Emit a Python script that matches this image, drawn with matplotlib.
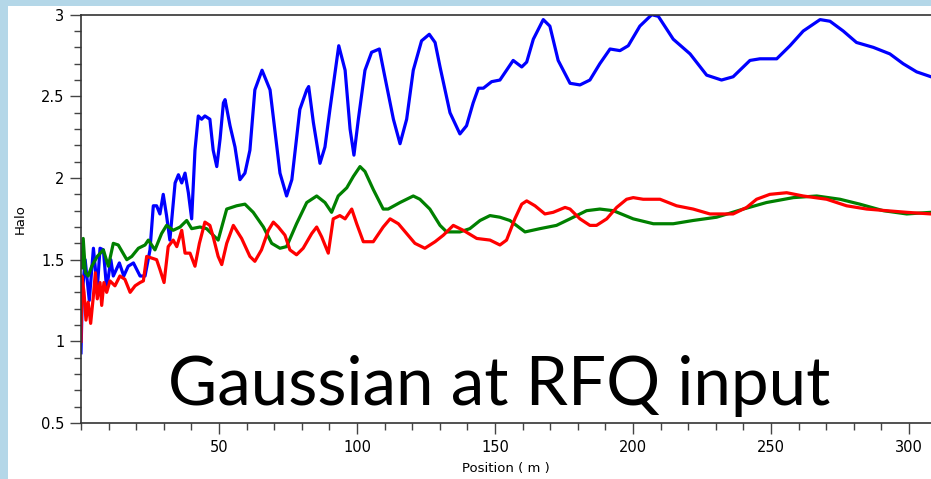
import numpy as np
import matplotlib
matplotlib.use("Agg")
import matplotlib.pyplot as plt
from matplotlib.patches import Rectangle
from matplotlib.ticker import MultipleLocator

# Kurven: Position in m, Halo-Parameter
blue_x = [0.0, 0.5, 1.5, 3.0, 4.5, 5.9, 6.9, 8.1, 9.3, 10.8, 11.7, 13.9, 15.5, 17.1, 19.0,
          21.4, 23.2, 25.0, 26.2, 27.4, 28.6, 29.8, 31.0, 32.2, 34.1, 35.3, 36.5, 37.7,
          38.9, 40.1, 41.3, 42.5, 43.7, 44.9, 46.7, 47.9, 49.2, 50.4, 51.6, 52.2, 54.0,
          55.8, 57.6, 59.4, 61.2, 63.0, 65.6, 68.5, 72.1, 74.5, 76.4, 79.3, 81.8, 82.5,
          84.2, 86.6, 88.4, 90.2, 93.4, 95.7, 97.5, 98.9, 100.5, 102.9, 105.3, 108.1,
          110.1, 113.2, 115.6, 118.0, 120.4, 123.4, 126.2, 128.3, 130.1, 133.7, 137.3,
          139.7, 142.1, 144.0, 145.8, 148.8, 151.8, 156.6, 159.7, 161.5, 163.9, 167.5,
          169.9, 172.9, 177.2, 180.8, 184.4, 188.0, 191.7, 195.3, 198.3, 202.5, 206.8,
          209.2, 214.6, 220.7, 226.7, 232.1, 236.3, 242.4, 246.0, 252.1, 256.9, 261.7,
          267.8, 271.4, 276.2, 281.0, 287.1, 293.1, 297.9, 302.8, 308.0]
blue_y = [0.93, 1.30, 1.50, 1.25, 1.57, 1.32, 1.57, 1.56, 1.32, 1.50, 1.40, 1.48, 1.40, 1.46,
          1.48, 1.40, 1.40, 1.56, 1.83, 1.83, 1.78, 1.90, 1.77, 1.62, 1.97, 2.02, 1.97,
          2.03, 1.91, 1.75, 2.17, 2.38, 2.36, 2.38, 2.36, 2.17, 2.07, 2.24, 2.46, 2.48,
          2.32, 2.19, 1.99, 2.03, 2.17, 2.54, 2.66, 2.54, 2.03, 1.89, 1.99, 2.42, 2.54,
          2.56, 2.34, 2.09, 2.19, 2.42, 2.81, 2.66, 2.30, 2.14, 2.36, 2.66, 2.77, 2.79,
          2.62, 2.36, 2.21, 2.36, 2.66, 2.84, 2.88, 2.83, 2.68, 2.40, 2.27, 2.32, 2.46,
          2.55, 2.55, 2.59, 2.60, 2.72, 2.68, 2.71, 2.85, 2.97, 2.93, 2.72, 2.58, 2.57,
          2.60, 2.70, 2.79, 2.78, 2.81, 2.93, 3.00, 2.99, 2.85, 2.76, 2.63, 2.60, 2.62,
          2.72, 2.73, 2.73, 2.81, 2.90, 2.97, 2.96, 2.90, 2.83, 2.80, 2.76, 2.70, 2.65,
          2.62]

green_x = [0.3, 0.8, 1.6, 2.6, 3.9, 5.9, 8.1, 9.9, 11.7, 13.5, 16.6, 18.4, 20.8, 23.2, 24.4,
           26.8, 29.2, 31.0, 33.4, 35.9, 38.3, 40.1, 43.1, 45.5, 47.9, 49.7, 52.8, 56.4,
           59.4, 62.4, 66.1, 69.1, 72.1, 74.5, 78.1, 81.8, 85.4, 88.4, 90.8, 93.2, 96.3,
           98.7, 101.1, 102.9, 105.9, 109.5, 111.3, 115.6, 120.4, 122.8, 126.4, 130.1,
           132.5, 137.3, 140.9, 144.6, 148.2, 151.8, 155.4, 160.9, 166.3, 172.3, 177.2,
           183.2, 188.0, 192.9, 200.1, 207.4, 214.6, 221.8, 230.3, 240.0, 248.4, 258.1,
           266.6, 275.0, 282.2, 290.7, 299.2, 308.0]
green_y = [1.45, 1.63, 1.42, 1.40, 1.46, 1.52, 1.56, 1.46, 1.60, 1.59, 1.50, 1.52, 1.57,
           1.59, 1.62, 1.56, 1.66, 1.71, 1.68, 1.70, 1.74, 1.69, 1.70, 1.69, 1.65, 1.62,
           1.81, 1.83, 1.84, 1.79, 1.70, 1.60, 1.57, 1.58, 1.72, 1.85, 1.89, 1.85, 1.79,
           1.89, 1.94, 2.01, 2.07, 2.04, 1.93, 1.81, 1.81, 1.85, 1.89, 1.87, 1.81, 1.71,
           1.67, 1.67, 1.69, 1.74, 1.77, 1.76, 1.74, 1.67, 1.69, 1.71, 1.75, 1.80, 1.81,
           1.80, 1.75, 1.72, 1.72, 1.74, 1.76, 1.81, 1.85, 1.88, 1.89, 1.87, 1.84, 1.80,
           1.78, 1.79]

red_x = [0.0, 0.3, 1.1, 1.8, 2.6, 3.5, 4.5, 5.2, 5.9, 6.9, 7.5, 8.3, 9.3, 10.5, 12.3, 14.1,
         15.9, 17.8, 19.6, 21.4, 22.6, 23.8, 25.6, 27.4, 28.6, 30.1, 31.6, 33.4, 34.7, 36.5,
         37.7, 39.5, 41.3, 42.9, 44.9, 46.7, 47.9, 49.7, 51.0, 52.8, 55.2, 58.2, 61.2,
         63.0, 65.4, 67.9, 69.7, 71.5, 73.9, 75.7, 78.1, 80.5, 83.6, 85.4, 87.2, 89.6,
         91.4, 93.8, 95.7, 98.1, 99.9, 102.3, 105.9, 109.5, 112.0, 115.0, 118.0, 121.0,
         124.6, 128.3, 131.3, 134.9, 138.5, 143.4, 148.2, 151.8, 154.2, 157.2, 159.7,
         161.5, 164.5, 168.1, 171.1, 175.4, 177.2, 180.8, 184.4, 186.8, 190.5, 194.1,
         197.7, 200.1, 203.7, 209.8, 215.8, 221.8, 227.9, 236.3, 241.2, 244.8, 249.6,
         255.7, 261.7, 270.2, 277.4, 284.7, 291.9, 299.2, 308.0]
red_y = [1.00, 1.40, 1.30, 1.13, 1.24, 1.11, 1.28, 1.42, 1.26, 1.36, 1.22, 1.36, 1.30, 1.37,
         1.34, 1.40, 1.38, 1.30, 1.34, 1.36, 1.37, 1.52, 1.51, 1.50, 1.44, 1.36, 1.58, 1.62,
         1.58, 1.68, 1.54, 1.54, 1.46, 1.60, 1.73, 1.71, 1.64, 1.52, 1.47, 1.60, 1.71, 1.63,
         1.52, 1.49, 1.56, 1.68, 1.73, 1.70, 1.65, 1.56, 1.53, 1.57, 1.66, 1.70, 1.64, 1.54,
         1.75, 1.77, 1.75, 1.81, 1.72, 1.61, 1.61, 1.70, 1.75, 1.72, 1.66, 1.60, 1.57, 1.61,
         1.65, 1.71, 1.68, 1.63, 1.62, 1.59, 1.62, 1.75, 1.84, 1.86, 1.83, 1.78, 1.79, 1.82,
         1.81, 1.75, 1.71, 1.71, 1.75, 1.82, 1.87, 1.88, 1.87, 1.87, 1.83, 1.81, 1.78, 1.78,
         1.82, 1.87, 1.90, 1.91, 1.89, 1.87, 1.83, 1.81, 1.80, 1.79, 1.78]

y_ticks = [0.5, 1, 1.5, 2, 2.5, 3]
y_labels = ["0.5", "1", "1.5", "2", "2.5", "3"]
x_ticks = [50, 100, 150, 200, 250, 300]

W, H = 931, 479
fig = plt.figure(figsize=(W / 100, H / 100), dpi=100)
fig.patch.set_facecolor("#b4d7e8")
# weisse Flaeche hinter allem
fig.add_artist(Rectangle((8 / W, 0), 1, (H - 6) / H, transform=fig.transFigure,
                         facecolor="white", edgecolor="none", zorder=-5))

ax = fig.add_axes([81 / W, 1 - 423 / H, 850 / W, (423 - 14.7) / H])
ax.set_zorder(1)
ax.set_facecolor("white")

ax.plot(blue_x, blue_y, color="#0000ff", lw=2.3, solid_joinstyle="round")
ax.plot(green_x, green_y, color="#008000", lw=2.3, solid_joinstyle="round")
ax.plot(red_x, red_y, color="#ff0000", lw=2.3, solid_joinstyle="round")

ax.set_xlim(0, 308)
ax.set_ylim(0.5, 3)
ax.set_xticks(x_ticks)
ax.set_yticks(y_ticks)
ax.set_yticklabels(y_labels)
ax.xaxis.set_minor_locator(MultipleLocator(10))
ax.yaxis.set_minor_locator(MultipleLocator(0.1))
ax.tick_params(which="major", length=8, width=1, color="#444444", labelsize=10.5, pad=4)
ax.tick_params(which="minor", length=5, width=1, color="#444444")
ax.spines["right"].set_visible(False)
for s in ["left", "bottom", "top"]:
    ax.spines[s].set_color("#333333")
    ax.spines[s].set_linewidth(1.2)

ax.set_xlabel("Position ( m )", fontsize=9.5, labelpad=5)
ax.set_ylabel("Halo", fontsize=9.5, labelpad=10)

fig.text(168 / W, 1 - 405 / H, "Gaussian at RFQ input", family="Lato",
         fontsize=48.5, color="black", ha="left", va="baseline", zorder=5)

fig.savefig("out.png", dpi=100, facecolor=fig.get_facecolor())
